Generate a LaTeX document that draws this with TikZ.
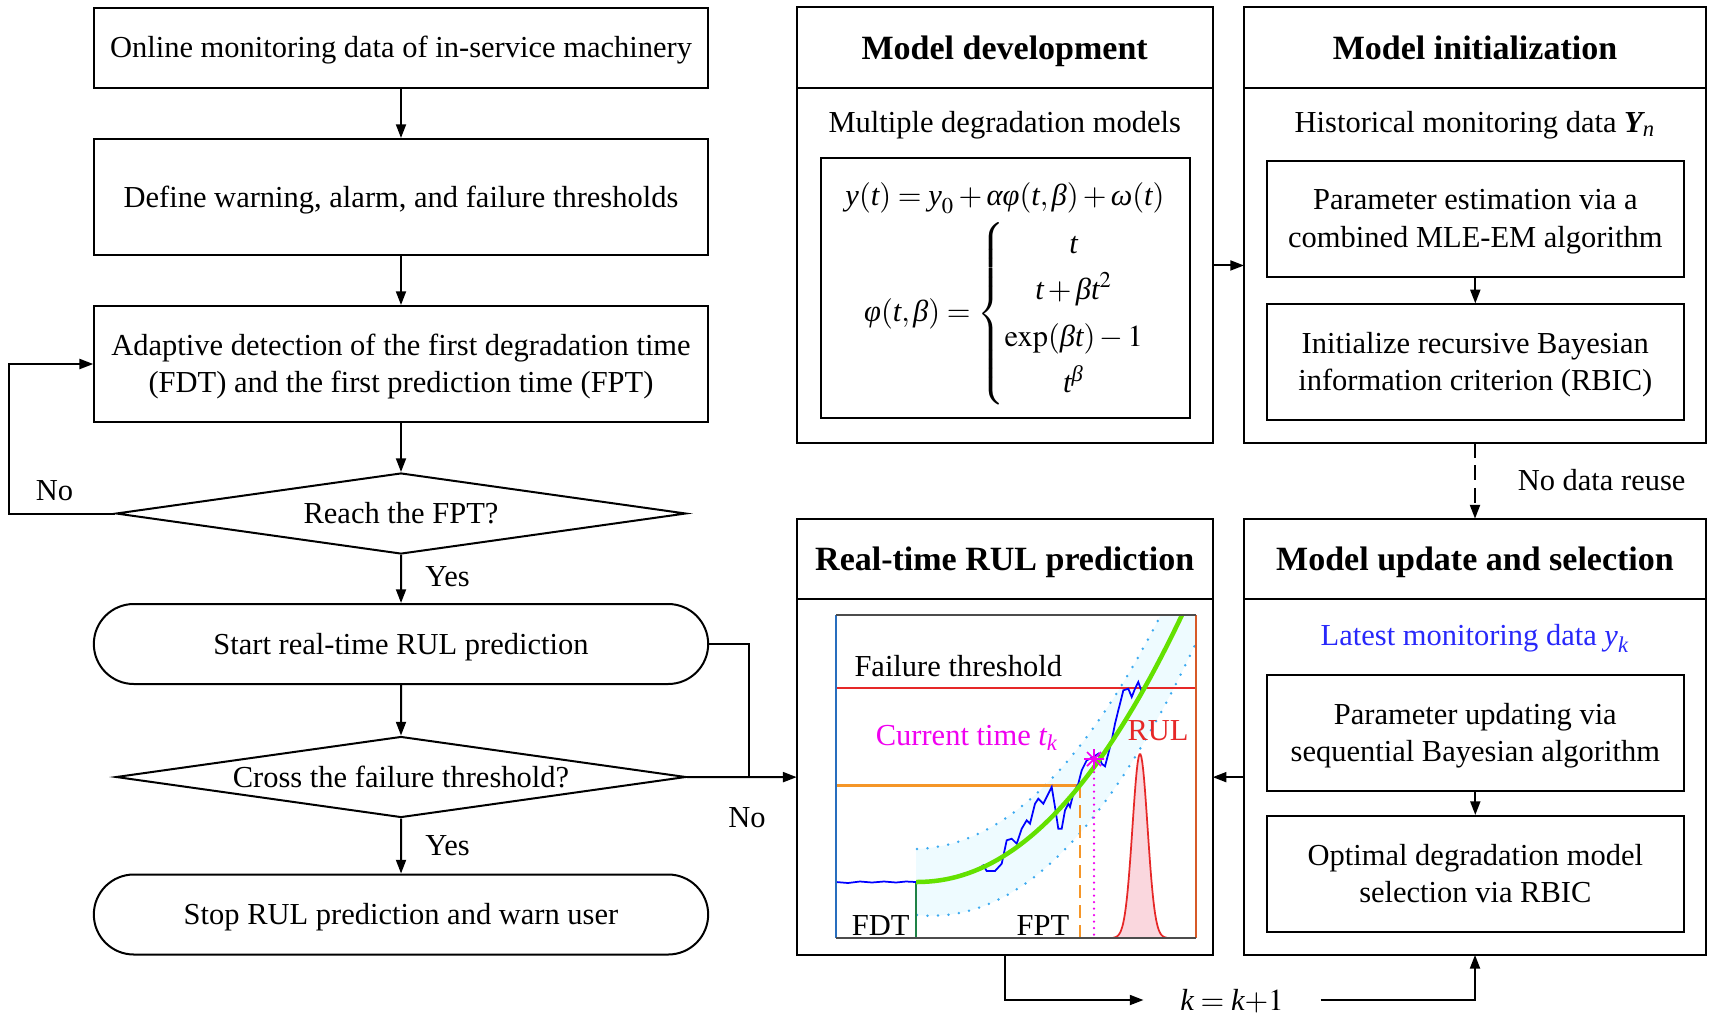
\documentclass[tikz,border=0pt]{standalone}
\usepackage{mathptmx}
\usepackage{amstext}
\usepackage[no-math]{fontspec}
\setmainfont{Liberation Serif}
\usetikzlibrary{shapes}
\usetikzlibrary{arrows.meta}
\usetikzlibrary{positioning}

\newcommand{\mi}[1]{\textit{#1}}

\definecolor{latestblue}{RGB}{40,40,250}
\definecolor{curvegreen}{RGB}{100,225,0}
\definecolor{bandfill}{RGB}{238,251,255}
\definecolor{bounddot}{RGB}{60,170,240}
\definecolor{fptorange}{RGB}{245,150,40}
\definecolor{edgeorange}{RGB}{215,90,40}
\definecolor{edgeblue}{RGB}{40,110,190}
\definecolor{rulred}{RGB}{230,40,40}
\definecolor{pdffill}{RGB}{250,215,222}
\definecolor{fdtgreen}{RGB}{30,130,70}
\definecolor{nowmagenta}{RGB}{240,0,240}

\tikzset{
  oneline/.style={text height=8.5pt, text depth=0.5pt},
  lowtext/.style={text depth=0.5pt},
  procbox/.style={draw, line width=0.8pt, minimum width=245.4pt, align=center},
  decision/.style={draw, line width=0.8pt, diamond, aspect=7, inner sep=0pt,
    minimum width=228pt, minimum height=32.4pt, oneline},
  terminal/.style={draw, line width=0.8pt, rounded rectangle, minimum width=252.4pt,
    minimum height=32pt, oneline},
  headbox/.style={draw, line width=0.8pt, outer sep=0pt, minimum height=32.3pt,
    text height=9.6pt, text depth=0.4pt, font=\fontsize{13.6}{16}\selectfont\bfseries},
  bodybox/.style={draw, line width=0.8pt, outer sep=0pt},
  eqbox/.style={draw, line width=0.8pt, minimum width=147.6pt, minimum height=103.9pt},
  innerbox/.style={draw, line width=0.8pt, minimum width=166.6pt, minimum height=46.4pt,
    align=center, lowtext},
  flow/.style={line width=0.8pt, -{Triangle[length=5.5pt,width=4pt]}},
  link/.style={line width=0.8pt},
}

\begin{document}
\begin{tikzpicture}[x=0.4pt,y=-0.4pt,font=\fontsize{12.2}{14.9}\selectfont]
  \useasboundingbox (0,0) rectangle (1713,1028);

  % left flow chart
  \node[procbox, minimum height=32pt, oneline] (online) at (401,47.5) {Online monitoring data of in-service machinery};
  \node[procbox, minimum height=46.4pt, oneline] (thresh) at (401,197) {Define warning, alarm, and failure thresholds};
  \node[procbox, minimum height=46.4pt, lowtext] (detect) at (401,364) {Adaptive detection of the first degradation time\\(FDT) and the first prediction time (FPT)};
  \node[decision] (reach) at (401,513.5) {Reach the FPT?};
  \node[terminal] (start) at (401,644) {Start real-time RUL prediction};
  \node[decision] (cross) at (401,777) {Cross the failure threshold?};
  \node[terminal] (stop) at (401,914.5) {Stop RUL prediction and warn user};

  \draw[flow] (online) -- (thresh);
  \draw[flow] (thresh) -- (detect);
  \draw[flow] (detect) -- (reach);
  \draw[flow] (reach) -- node[right=6pt, pos=0.45] {Yes} (start);
  \draw[flow] (start) -- (cross);
  \draw[flow] (cross) -- node[right=6pt, pos=0.5] {Yes} (stop);

  \coordinate (loop) at (9,513.5);
  \draw[flow] (reach.west) -- (loop) |- (detect.west);
  \node (nofpt) at (54.6,490.5) {No};

  % right panels
  \node[headbox, minimum width=166.4pt] (devhead) at (1004.7,47.7) {Model development};
  \node[bodybox, minimum width=166.4pt, minimum height=141.9pt, below=0pt of devhead] (devbody) {};
  \node[headbox, minimum width=184.8pt] (inithead) at (1475,47.7) {Model initialization};
  \node[bodybox, minimum width=184.8pt, minimum height=141.9pt, below=0pt of inithead] (initbody) {};
  \node[headbox, minimum width=166.4pt] (rulhead) at (1004.7,559) {Real-time RUL prediction};
  \node[bodybox, minimum width=166.4pt, minimum height=142.2pt, below=0pt of rulhead] (rulbody) {};
  \node[headbox, minimum width=184.8pt] (updhead) at (1475,559) {Model update and selection};
  \node[bodybox, minimum width=184.8pt, minimum height=142.2pt, below=0pt of updhead] (updbody) {};

  \node[oneline] (multi) at (1004.7,122) {Multiple degradation models};
  \node[eqbox] (eqs) at (1005,287.9) {};
  \node (eqtext) at (1005,293.4)
    {$\begin{array}{@{}c@{}}
      \mi{y}(\mi{t})=\mi{y}_0+\mi{αφ}(\mi{t},\mi{β})+\mi{ω}(\mi{t})\\[1.4pt]
      \mi{φ}(\mi{t},\mi{β})=\left\{\renewcommand{\arraystretch}{1.25}\begin{array}{@{}c@{}}
        \mi{t}\\ \mi{t}+\mi{βt}^2\\ \exp(\mi{βt})-1\\ \mi{t}^{\mi{β}}\end{array}\right.
     \end{array}$};

  \node[oneline] (hist) at (1475,122) {Historical monitoring data {\bfseries\itshape Y}$_{\mi{n}}$};
  \node[innerbox] (estim) at (1475.3,219) {Parameter estimation via a\\combined MLE-EM algorithm};
  \node[innerbox] (rbic) at (1475.3,362.4) {Initialize recursive Bayesian\\information criterion (RBIC)};
  \draw[flow] (estim) -- (rbic);

  \node[text=latestblue, oneline] (latest) at (1475,635) {Latest monitoring data $\mi{y}_{\mi{k}}$};
  \node[innerbox] (update) at (1475.3,732.7) {Parameter updating via\\sequential Bayesian algorithm};
  \node[innerbox] (select) at (1475.3,874) {Optimal degradation model\\selection via RBIC};
  \draw[flow] (update) -- (select);

  \draw[flow] (devbody) -- (initbody);
  \draw[flow, dash pattern=on 6pt off 3pt] (initbody) -- (updhead);
  \node[oneline] (reuse) at (1601.6,480.7) {No data reuse};
  \draw[flow] (updbody) -- (rulbody);

  \coordinate (join) at (749,777);
  \draw[link] (start.east) -| (join);
  \draw[flow] (cross.east) -- (rulbody.west);
  \node[oneline] (nofail) at (747,817) {No};

  \node[minimum width=70.4pt, inner sep=0pt, oneline] (kk) at (1232,1000) {$\mi{k}=\mi{k}{+}1$};
  \draw[flow] (rulbody.south) |- (kk.west);
  \draw[flow] (kk.east) -| (updbody.south);

  % RUL chart
  \begin{scope}[yshift=-0.8pt]
    \begin{scope}
      \clip (836,613) rectangle (1196,936);
      \fill[bandfill] (916,847) -- plot[domain=0.01:2.9, samples=50] ({916+100*\x},{880-34.23*(\x)^2.1-33-4*\x})
        -- plot[domain=2.9:0.01, samples=50] ({916+100*\x},{880-34.23*(\x)^2.1+33+9*\x}) -- (916,913) -- cycle;
      \draw[bounddot, line width=1.1pt, line cap=round, dash pattern=on 0pt off 4.2pt]
        plot[domain=0.01:2.9, samples=50] ({916+100*\x},{880-34.23*(\x)^2.1-33-4*\x});
      \draw[bounddot, line width=1.1pt, line cap=round, dash pattern=on 0pt off 4.2pt]
        plot[domain=0.01:2.9, samples=50] ({916+100*\x},{880-34.23*(\x)^2.1+33+9*\x});
      \draw[rulred, line width=0.7pt] (836,685.7) -- (1196,685.7);
      \draw[fptorange, line width=1pt] (836,783.3) -- (1080,783.3);
      \draw[fptorange, line width=1pt, dash pattern=on 5pt off 3pt] (1080,783.3) -- (1080,936);
      \draw[nowmagenta, line width=1pt, line cap=round, dash pattern=on 0pt off 2.6pt] (1094,757) -- (1094,936);
      \draw[fdtgreen, line width=0.6pt] (916,880) -- (916,936);
      \filldraw[fill=pdffill, draw=rulred, line width=0.7pt]
        plot[domain=-3.6:3.6, samples=60] ({1140+7.5*\x},{936-184*exp(-\x*\x/2)});
      \draw[blue, line width=0.7pt] plot coordinates {(836,880) (848,881) (860,879.5) (872,880.5) (884,879.5)
        (896,880.5) (906,879.5) (916,880) (930,880) (950,876.7) (963.3,871.7) (976.7,868.3) (983.3,863.3)
        (986.7,869) (995,869) (1001.7,861.7) (1006.7,838.3) (1011.7,836.7) (1016.7,841.7) (1021.7,826.7)
        (1026.7,818.3) (1030,821.7) (1035,801.7) (1038.3,796.7) (1043.3,801.7) (1048.3,791.7) (1051.7,785)
        (1055,805) (1058.3,826.7) (1061.7,826.7) (1065,808.3) (1068.3,801.7) (1070,805) (1073.3,791.7)
        (1078.3,781.7) (1081.7,768.3) (1086.7,758.3) (1093.3,755) (1098.3,751.7) (1101.7,761.7) (1105,764.3)
        (1108.3,751.7) (1111.7,738.3) (1115,721.7) (1118.3,708.3) (1121.7,695) (1123.3,688.3) (1128.3,686.7)
        (1131.7,695) (1135,686.7) (1138.3,680) (1141.7,690) (1145,683.3) (1148.3,679)};
      \draw[curvegreen, line width=1.8pt] (916,880) -- plot[domain=0.01:2.8, samples=50] ({916+100*\x},{880-34.23*(\x)^2.1});
      \draw[nowmagenta, line width=0.7pt] (1084,757) -- (1104,757) (1094,747) -- (1094,767)
        (1087,750) -- (1101,764) (1087,764) -- (1101,750);
    \end{scope}
    \draw[edgeblue, line width=0.6pt] (836,613) -- (836,936);
    \draw[edgeorange, line width=0.6pt] (1196,613) -- (1196,936);
    \draw[black!70, line width=0.6pt] (836,613) -- (1196,613) (836,936) -- (1196,936);

    \node[anchor=west, inner sep=0pt, oneline] (failtext) at (854,664) {Failure threshold};
    \node[text=nowmagenta, oneline] (nowtext) at (967,733) {Current time $\mi{t}_{\mi{k}}$};
    \node[text=rulred, oneline] (rultext) at (1158,728.7) {RUL};
    \node[oneline] (fdttext) at (880.6,923) {FDT};
    \node[oneline] (fpttext) at (1043,923) {FPT};
  \end{scope}
\end{tikzpicture}
\end{document}
